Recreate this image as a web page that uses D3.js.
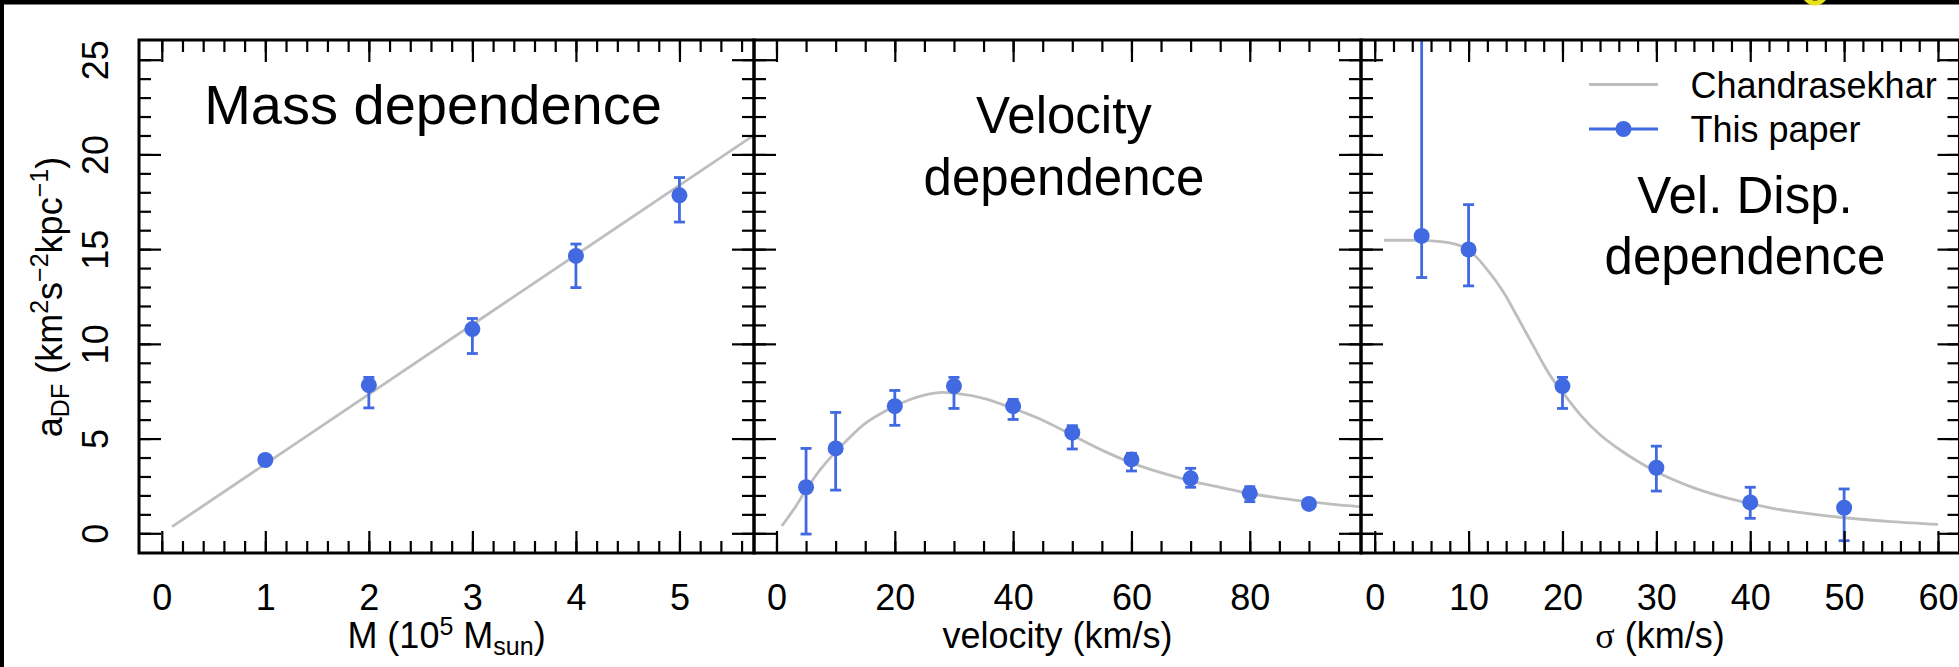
<!DOCTYPE html>
<html>
<head>
<meta charset="utf-8">
<script src="https://cdn.jsdelivr.net/npm/d3@7"></script>
<style>
  html, body { margin: 0; padding: 0; background: #fff; }
  svg { display: block; }
  text { font-family: "Liberation Sans", Arial, Helvetica, sans-serif; fill: #000; }
</style>
</head>
<body>
<svg id="chart" width="1959" height="667"></svg>
<script>
// ---- Mass dependence (M in 1e5 Msun) ----
const massValues = [1, 2, 3, 4, 5];
const massAccel  = [3.87, 7.82, 10.78, 14.64, 17.84];
const massLow    = [3.72, 6.62, 9.49, 12.97, 16.43];
const massHigh   = [4.02, 8.23, 11.34, 15.27, 18.78];
const massTheoryX = [0.1, 6.0];
const massTheoryY = [0.35, 22.05];
const massTicks  = [0, 1, 2, 3, 4, 5];

// ---- Velocity dependence (km/s) ----
const velValues = [5, 10, 20, 30, 40, 50, 60, 70, 80, 90];
const velAccel  = [2.43, 4.48, 6.71, 7.77, 6.71, 5.31, 3.90, 2.90, 2.11, 1.55];
const velLow    = [-0.04, 2.28, 5.70, 6.59, 6.01, 4.45, 3.29, 2.43, 1.67, 1.38];
const velHigh   = [4.48, 6.38, 7.54, 8.23, 7.07, 5.68, 4.22, 3.43, 2.46, 1.72];
const velTheoryX = [0.9, 3, 5, 7.5, 10, 12.5, 15, 17.5, 20, 22.5, 25, 28, 30, 35, 40, 45, 50, 55, 60, 65, 70, 75, 80, 85, 90, 95, 100];
const velTheoryY = [0.39, 1.3, 2.3, 3.4, 4.3, 5.1, 5.8, 6.3, 6.71, 7.05, 7.29, 7.44, 7.40, 7.12, 6.59, 5.97, 5.18, 4.39, 3.72, 3.20, 2.77, 2.43, 2.11, 1.86, 1.67, 1.50, 1.37];
const velTicks  = [0, 20, 40, 60, 80];

// ---- Velocity dispersion dependence (km/s) ----
const sigmaValues = [5, 10, 20, 30, 40, 50];
const sigmaAccel  = [15.70, 14.98, 7.77, 3.46, 1.63, 1.35];
const sigmaLow    = [13.50, 13.06, 6.59, 2.23, 0.79, -0.39];
const sigmaHigh   = [30.0, 17.35, 8.23, 4.60, 2.43, 2.34];
const sigmaTheoryX = [1, 3, 5, 7, 8, 9, 10, 11, 12, 13, 14, 15, 16, 17, 18, 19, 20, 22, 24, 26, 28, 30, 34, 38, 42, 46, 50, 55, 60];
const sigmaTheoryY = [15.47, 15.47, 15.46, 15.40, 15.33, 15.20, 14.95, 14.50, 13.90, 13.25, 12.50, 11.60, 10.70, 9.80, 8.90, 8.10, 7.45, 6.20, 5.20, 4.45, 3.80, 3.25, 2.40, 1.80, 1.35, 1.05, 0.82, 0.62, 0.47];
const sigmaTicks  = [0, 10, 20, 30, 40, 50, 60];

const accelTicks = [0, 5, 10, 15, 20, 25];
const legendLabels = ["Chandrasekhar", "This paper"];

const BLUE = "#4169E1";
const GREY = "#BEBEBE";
const W = 1959, H = 667;
const PT = 40, PB = 553;
const MAJOR = 22, MINOR = 12;

const svg = d3.select("#chart");
svg.append("rect").attr("width", W).attr("height", H).attr("fill", "#fff");

// dark edges and the ring peeking in at the top
svg.append("rect").attr("x", 0).attr("y", 0).attr("width", W).attr("height", 4.5).attr("fill", "#000");
svg.append("rect").attr("x", 0).attr("y", 0).attr("width", 4).attr("height", H).attr("fill", "#000");
svg.append("circle").attr("cx", 1815).attr("cy", -8).attr("r", 11)
  .attr("fill", "none").attr("stroke", "#E8E21A").attr("stroke-width", 5);

const y = d3.scaleLinear().domain([-1.04, 26.04]).range([PB, PT]);

const panels = [
  { left: 139, right: 754, domain: [-0.22, 5.72], xs: massValues, ys: massAccel, lo: massLow, hi: massHigh,
    tx: massTheoryX, ty: massTheoryY, ticks: massTicks, minor: d3.range(0, 29).map(i => +(i * 0.2).toFixed(1)) },
  { left: 754, right: 1361, domain: [-3.8, 98.8], xs: velValues, ys: velAccel, lo: velLow, hi: velHigh,
    tx: velTheoryX, ty: velTheoryY, ticks: velTicks, minor: d3.range(0, 20).map(i => i * 5) },
  { left: 1361, right: 1959.5, domain: [-1.46, 62.29], xs: sigmaValues, ys: sigmaAccel, lo: sigmaLow, hi: sigmaHigh,
    tx: sigmaTheoryX, ty: sigmaTheoryY, ticks: sigmaTicks, minor: d3.range(0, 31).map(i => i * 2) }
];

const yMinor = d3.range(0, 26);

function styleAxis(g) {
  g.select(".domain").remove();
  g.selectAll(".tick line").attr("stroke", "#000").attr("stroke-width", 2.2);
}

panels.forEach((p, i) => {
  const x = d3.scaleLinear().domain(p.domain).range([p.left, p.right]);
  const clipId = "plotclip" + i;
  svg.append("clipPath").attr("id", clipId).append("rect")
    .attr("x", p.left).attr("y", PT).attr("width", p.right - p.left).attr("height", PB - PT);

  const plot = svg.append("g").attr("clip-path", `url(#${clipId})`);

  // theory curve
  const line = d3.line().x(d => x(d[0])).y(d => y(d[1])).curve(d3.curveMonotoneX);
  plot.append("path").datum(d3.zip(p.tx, p.ty))
    .attr("d", line).attr("fill", "none").attr("stroke", GREY).attr("stroke-width", 2.8);

  // error bars
  const rows = p.xs.map((v, k) => ({ x: v, y: p.ys[k], lo: p.lo[k], hi: p.hi[k] }));
  const eb = plot.append("g").attr("stroke", BLUE).attr("stroke-width", 2.8);
  eb.selectAll("line.stem").data(rows).join("line").attr("class", "stem")
    .attr("x1", d => x(d.x)).attr("x2", d => x(d.x))
    .attr("y1", d => y(d.lo)).attr("y2", d => y(d.hi));
  eb.selectAll("line.capHi").data(rows).join("line").attr("class", "capHi")
    .attr("x1", d => x(d.x) - 5.5).attr("x2", d => x(d.x) + 5.5)
    .attr("y1", d => y(d.hi)).attr("y2", d => y(d.hi));
  eb.selectAll("line.capLo").data(rows).join("line").attr("class", "capLo")
    .attr("x1", d => x(d.x) - 5.5).attr("x2", d => x(d.x) + 5.5)
    .attr("y1", d => y(d.lo)).attr("y2", d => y(d.lo));

  // points
  plot.append("g").selectAll("circle").data(rows).join("circle")
    .attr("cx", d => x(d.x)).attr("cy", d => y(d.y)).attr("r", 8).attr("fill", BLUE);

  // ticks on all four sides, pointing inward
  const bottomMinor = svg.append("g").attr("transform", `translate(0,${PB})`)
    .call(d3.axisBottom(x).tickValues(p.minor).tickSize(-MINOR).tickFormat(""));
  styleAxis(bottomMinor);
  const bottomMajor = svg.append("g").attr("transform", `translate(0,${PB})`)
    .call(d3.axisBottom(x).tickValues(p.ticks).tickSize(-MAJOR).tickFormat(d3.format("d")));
  styleAxis(bottomMajor);
  bottomMajor.selectAll(".tick text")
    .attr("y", 57).attr("dy", 0).attr("font-size", 36)
    .attr("font-family", '"Liberation Sans", Arial, sans-serif').attr("fill", "#000");

  const topMinor = svg.append("g").attr("transform", `translate(0,${PT})`)
    .call(d3.axisTop(x).tickValues(p.minor).tickSize(-MINOR).tickFormat(""));
  styleAxis(topMinor);
  const topMajor = svg.append("g").attr("transform", `translate(0,${PT})`)
    .call(d3.axisTop(x).tickValues(p.ticks).tickSize(-MAJOR).tickFormat(""));
  styleAxis(topMajor);

  const leftMinor = svg.append("g").attr("transform", `translate(${p.left},0)`)
    .call(d3.axisLeft(y).tickValues(yMinor).tickSize(-MINOR).tickFormat(""));
  styleAxis(leftMinor);
  const leftMajor = svg.append("g").attr("transform", `translate(${p.left},0)`)
    .call(d3.axisLeft(y).tickValues(accelTicks).tickSize(-MAJOR).tickFormat(i === 0 ? d3.format("d") : ""));
  styleAxis(leftMajor);
  if (i === 0) {
    leftMajor.selectAll(".tick text")
      .attr("x", 0).attr("y", 0).attr("dy", 0)
      .attr("text-anchor", "middle")
      .attr("transform", `translate(${108 - p.left},0) rotate(-90)`)
      .attr("font-size", 36)
      .attr("font-family", '"Liberation Sans", Arial, sans-serif').attr("fill", "#000");
  }

  const rightMinor = svg.append("g").attr("transform", `translate(${p.right},0)`)
    .call(d3.axisRight(y).tickValues(yMinor).tickSize(-MINOR).tickFormat(""));
  styleAxis(rightMinor);
  const rightMajor = svg.append("g").attr("transform", `translate(${p.right},0)`)
    .call(d3.axisRight(y).tickValues(accelTicks).tickSize(-MAJOR).tickFormat(""));
  styleAxis(rightMajor);

  // frame
  svg.append("rect").attr("x", p.left).attr("y", PT)
    .attr("width", p.right - p.left).attr("height", PB - PT)
    .attr("fill", "none").attr("stroke", "#000").attr("stroke-width", 3);
});

// panel headings
svg.append("text").attr("x", 433).attr("y", 124).attr("text-anchor", "middle")
  .attr("font-size", 56).text("Mass dependence");
svg.append("text").attr("x", 1064).attr("y", 133).attr("text-anchor", "middle")
  .attr("font-size", 51).text("Velocity");
svg.append("text").attr("x", 1064).attr("y", 195).attr("text-anchor", "middle")
  .attr("font-size", 51).text("dependence");
svg.append("text").attr("x", 1745).attr("y", 213).attr("text-anchor", "middle")
  .attr("font-size", 51).text("Vel. Disp.");
svg.append("text").attr("x", 1745).attr("y", 274).attr("text-anchor", "middle")
  .attr("font-size", 51).text("dependence");

// x axis titles
const xt1 = svg.append("text").attr("x", 446.5).attr("y", 648).attr("text-anchor", "middle").attr("font-size", 36);
xt1.append("tspan").text("M (10");
xt1.append("tspan").attr("font-size", 25).attr("dy", -13).text("5");
xt1.append("tspan").attr("dy", 13).text(" M");
xt1.append("tspan").attr("font-size", 25).attr("dy", 7).text("sun");
xt1.append("tspan").attr("dy", -7).text(")");

svg.append("text").attr("x", 1057.5).attr("y", 648).attr("text-anchor", "middle")
  .attr("font-size", 36).text("velocity (km/s)");

const xt3 = svg.append("text").attr("x", 1660).attr("y", 648).attr("text-anchor", "middle").attr("font-size", 36);
xt3.append("tspan").attr("font-family", '"Liberation Serif", "DejaVu Serif", serif').text("σ");
xt3.append("tspan").text(" (km/s)");

// y axis title
const yt = svg.append("text").attr("text-anchor", "middle").attr("font-size", 36)
  .attr("transform", "translate(62,297) rotate(-90)");
yt.append("tspan").text("a");
yt.append("tspan").attr("font-size", 25).attr("dy", 7).text("DF");
yt.append("tspan").attr("dy", -7).text(" (km");
yt.append("tspan").attr("font-size", 25).attr("dy", -14).text("2");
yt.append("tspan").attr("dy", 14).text("s");
yt.append("tspan").attr("font-size", 25).attr("dy", -14).text("\u22122");
yt.append("tspan").attr("dy", 14).text("kpc");
yt.append("tspan").attr("font-size", 25).attr("dy", -14).text("\u22121");
yt.append("tspan").attr("dy", 14).text(")");

// legend
const lg = svg.append("g");
lg.append("line").attr("x1", 1589).attr("x2", 1658).attr("y1", 84.5).attr("y2", 84.5)
  .attr("stroke", GREY).attr("stroke-width", 2.8);
lg.append("line").attr("x1", 1589).attr("x2", 1658).attr("y1", 129).attr("y2", 129)
  .attr("stroke", BLUE).attr("stroke-width", 2.8);
lg.append("circle").attr("cx", 1623.5).attr("cy", 129).attr("r", 8).attr("fill", BLUE);
lg.append("text").attr("x", 1690.5).attr("y", 97.7).attr("font-size", 36).text(legendLabels[0]);
lg.append("text").attr("x", 1690.5).attr("y", 141.7).attr("font-size", 36).text(legendLabels[1]);
</script>
</body>
</html>
